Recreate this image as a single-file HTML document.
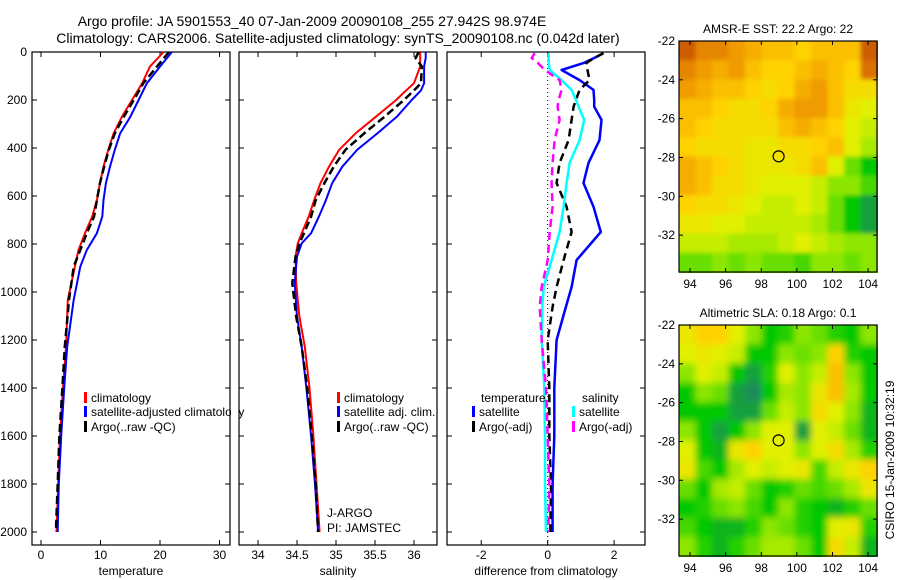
<!DOCTYPE html>
<html><head><meta charset="utf-8"><style>
body{margin:0;background:#fff;}
svg{display:block;font-family:"Liberation Sans",sans-serif;}
text{fill:#000;}
</style></head><body>
<svg id="c" width="900" height="580" viewBox="0 0 900 580">
<defs>
<filter id="blur1" x="0" y="0" width="1" height="1"><feGaussianBlur stdDeviation="2"/><feComponentTransfer><feFuncA type="table" tableValues="1 1"/></feComponentTransfer></filter>
<filter id="blur2" x="0" y="0" width="1" height="1"><feGaussianBlur stdDeviation="3.5"/><feComponentTransfer><feFuncA type="table" tableValues="1 1"/></feComponentTransfer></filter>
</defs>
<text x="312" y="26" font-size="14" text-anchor="middle">Argo profile: JA 5901553_40 07-Jan-2009 20090108_255 27.942S 98.974E</text>
<text x="338" y="43" font-size="14" text-anchor="middle">Climatology: CARS2006. Satellite-adjusted climatology: synTS_20090108.nc (0.042d later)</text>
<g id="g"></g>
</svg>
<script>
// ---- profile data ----
const depthT = [0,61,130,200,270,339,408,478,547,617,686,755,825,894,1033,1228,1400,1600,1800,2000];
const tempClim = [20.6,18.3,17.0,15.3,13.6,12.2,11.3,10.5,9.9,9.4,8.6,7.4,6.3,5.7,4.5,4.2,3.7,3.2,2.9,2.6];
const tempSat  = [22.0,20.0,17.8,16.4,15.0,13.3,12.4,11.6,10.9,10.5,10.3,9.4,7.7,6.6,5.5,4.4,3.9,3.4,3.0,2.8];
const tempArgo = [21.5,19.5,17.2,15.6,13.9,12.4,11.4,10.6,9.9,9.4,8.9,7.7,6.6,5.5,4.7,4.0,3.6,3.1,2.8,2.5];
const depthS = [0,25,60,130,160,200,270,339,408,478,547,617,686,755,797,853,964,1103,1228,1400,1600,1800,2000];
const salClim = [36.08,36.08,36.08,36.0,35.9,35.77,35.51,35.25,35.04,34.91,34.80,34.72,34.65,34.56,34.51,34.48,34.49,34.53,34.60,34.66,34.71,34.75,34.79];
const salSat  = [36.15,36.15,36.13,36.13,36.09,35.97,35.78,35.53,35.27,35.08,34.95,34.87,34.78,34.68,34.56,34.50,34.47,34.50,34.56,34.62,34.68,34.73,34.77];
const salArgo = [36.06,36.02,36.10,36.09,36.0,35.87,35.62,35.36,35.12,34.97,34.85,34.74,34.68,34.59,34.53,34.48,34.44,34.49,34.56,34.63,34.69,34.74,34.77];
const depthD = [5,25,45,75,117,158,200,228,283,367,462,546,645,750,867,979,1062,1200,1400,1600,1800,2000];
const dTempSat  = [1.68,1.4,1.1,0.42,0.96,1.38,1.4,1.4,1.62,1.56,1.23,1.08,1.38,1.6,0.87,0.72,0.55,0.27,0.2,0.2,0.15,0.15];
const dTempArgo = [1.68,1.4,1.17,1.2,1.26,0.96,0.85,0.78,0.72,0.63,0.36,0.27,0.57,0.72,0.48,0.27,0.15,0.0,0.05,0.05,0.1,0.08];
const dSalSat   = [0.03,0.03,0.03,0.06,0.42,0.72,0.85,0.93,1.1,0.96,0.66,0.57,0.48,0.36,0.12,-0.12,-0.16,-0.18,-0.1,-0.08,-0.08,-0.05];
const dSalArgo  = [-0.39,-0.48,-0.3,-0.09,0.36,0.42,0.33,0.3,0.36,0.21,0.15,0.12,0.15,0.06,0.0,-0.18,-0.24,-0.18,-0.05,0.0,0.05,0.02];
const depthTicks = [0,200,400,600,800,1000,1200,1400,1600,1800,2000];
const tempTicks = [0,10,20,30];
const salTicks = [34,34.5,35,35.5,36];
const diffTicks = [-2,0,2];
// ---- map data (12x12) ----
const mapLonTicks = [94,96,98,100,102,104];
const mapLatTicks = [-22,-24,-26,-28,-30,-32];
const sstGrid = [
[0.95,0.85,0.85,0.8,0.75,0.7,0.7,0.65,0.7,0.7,0.7,0.95],
[0.85,0.8,0.75,0.8,0.7,0.65,0.65,0.7,0.75,0.7,0.65,0.9],
[0.8,0.75,0.7,0.7,0.65,0.6,0.65,0.75,0.8,0.7,0.6,0.6],
[0.7,0.7,0.65,0.6,0.6,0.65,0.75,0.8,0.8,0.7,0.55,0.5],
[0.7,0.65,0.6,0.6,0.6,0.6,0.7,0.75,0.7,0.65,0.5,0.45],
[0.65,0.6,0.6,0.6,0.55,0.55,0.6,0.6,0.65,0.7,0.5,0.4],
[0.75,0.7,0.65,0.6,0.55,0.55,0.55,0.6,0.7,0.5,0.3,0.15],
[0.75,0.7,0.6,0.6,0.55,0.5,0.5,0.5,0.45,0.35,0.35,0.25],
[0.65,0.6,0.6,0.55,0.5,0.45,0.45,0.5,0.45,0.3,0.15,0.05],
[0.55,0.55,0.5,0.5,0.45,0.45,0.45,0.45,0.4,0.3,0.15,0.05],
[0.45,0.45,0.45,0.4,0.4,0.4,0.45,0.5,0.45,0.4,0.35,0.35],
[0.3,0.3,0.35,0.3,0.35,0.3,0.3,0.25,0.35,0.35,0.3,0.35]];
const slaGrid = [
[0.55,0.65,0.65,0.5,0.35,0.15,0.2,0.35,0.3,0.2,0.15,0.35],
[0.5,0.55,0.5,0.45,0.15,0.15,0.35,0.3,0.35,0.65,0.2,0.15],
[0.35,0.5,0.45,0.15,0.05,0.2,0.5,0.35,0.45,0.7,0.35,0.15],
[0.15,0.35,0.3,0.05,0.0,0.15,0.4,0.35,0.55,0.7,0.4,0.15],
[0.15,0.15,0.15,0.05,0.05,0.3,0.45,0.35,0.6,0.5,0.35,0.1],
[0.35,0.15,0.05,0.15,0.35,0.5,0.5,0.05,0.5,0.45,0.3,0.1],
[0.5,0.15,0.1,0.55,0.65,0.5,0.5,0.35,0.5,0.6,0.4,0.2],
[0.55,0.25,0.15,0.4,0.5,0.45,0.5,0.55,0.25,0.45,0.55,0.65],
[0.3,0.15,0.4,0.45,0.3,0.15,0.2,0.3,0.25,0.3,0.4,0.55],
[0.15,0.2,0.3,0.35,0.25,0.15,0.35,0.2,0.15,0.1,0.2,0.3],
[0.25,0.15,0.1,0.1,0.2,0.35,0.3,0.2,0.15,0.5,0.55,0.2],
[0.35,0.2,0.1,0.2,0.3,0.4,0.4,0.3,0.15,0.6,0.45,0.1]];

const NS='http://www.w3.org/2000/svg';
const G=document.getElementById('g');
function mk(tag,attrs,parent){const e=document.createElementNS(NS,tag);for(const k in attrs)e.setAttribute(k,attrs[k]);(parent||G).appendChild(e);return e;}
const yTop=52,yBot=545;
const yD=d=>yTop+d*0.24;

function panel(name,x0,x1,vmin,vmax,ticks,fmt,label){
  const sx=v=>x0+(v-vmin)/(vmax-vmin)*(x1-x0);
  const r=mk('rect',{x:x0,y:yTop,width:x1-x0,height:yBot-yTop,fill:'none',stroke:'#000','stroke-width':1.2});
  
  
  ticks.forEach(t=>{const x=sx(t);
    mk('line',{x1:x,x2:x,y1:yBot,y2:yBot-5,stroke:'#000'});mk('line',{x1:x,x2:x,y1:yTop,y2:yTop+5,stroke:'#000'});
    const tx=mk('text',{x:x,y:yBot+14,'font-size':12,'text-anchor':'middle'});tx.textContent=fmt(t);
    
    });
  depthTicks.forEach(d=>{const y=yD(d);
    mk('line',{x1:x0,x2:x0+5,y1:y,y2:y,stroke:'#000'});mk('line',{x1:x1,x2:x1-5,y1:y,y2:y,stroke:'#000'});});
  const lb=mk('text',{x:(x0+x1)/2,y:575,'font-size':12,'text-anchor':'middle'});lb.textContent=label;
  
  
  return sx;
}
function line(nm,sx,depths,vals,color,w,dash){
  const pts=depths.map((d,i)=>sx(vals[i]).toFixed(1)+','+yD(d).toFixed(1)).join(' ');
  const p=mk('polyline',{points:pts,fill:'none',stroke:color,'stroke-width':w,'stroke-dasharray':dash||'none','stroke-linejoin':'round'});
  
  
}
function legend(nm,x,y,color,txt){
  mk('rect',{x:x-1,y:y-10,width:3,height:11,fill:color});
  const t=mk('text',{x:x+6,y:y,'font-size':12});t.textContent=txt;
  
  
}
depthTicks.forEach(d=>{const t=mk('text',{x:27,y:yD(d)+4,'font-size':12,'text-anchor':'end'});t.textContent=d;
  
  });

const s1=panel('temperature-panel',32,230,-1.51,31.76,tempTicks,t=>t,'temperature');
line('temp-climatology-line',s1,depthT,tempClim,'#f00',2);
line('temp-satellite-line',s1,depthT,tempSat,'#00f',2);
line('temp-argo-line',s1,depthT,tempArgo,'#000',2.5,'8,4');
legend('legend-climatology',85,402,'#f00','climatology');
legend('legend-satellite-adjusted',85,416,'#00f','satellite-adjusted climatology');
legend('legend-argo',85,431,'#000','Argo(..raw -QC)');

const s2=panel('salinity-panel',239,437,33.756,36.295,salTicks,t=>t,'salinity');
line('sal-climatology-line',s2,depthS,salClim,'#f00',2);
line('sal-satellite-line',s2,depthS,salSat,'#00f',2);
line('sal-argo-line',s2,depthS,salArgo,'#000',2.5,'8,4');
legend('legend-sal-climatology',338,402,'#f00','climatology');
legend('legend-sal-satellite',338,416,'#00f','satellite adj. clim.');
legend('legend-sal-argo',338,431,'#000','Argo(..raw -QC)');
mk('rect',{x:231,y:400,width:7,height:30,fill:'#fff'});
let t1=mk('text',{x:327,y:517,'font-size':12});t1.textContent='J-ARGO';


let t2=mk('text',{x:327,y:532,'font-size':12});t2.textContent='PI: JAMSTEC';



const s3=panel('difference-panel',447,645,-3.03,2.93,diffTicks,t=>t,'difference from climatology');
mk('line',{x1:s3(0),x2:s3(0),y1:yTop,y2:yBot,stroke:'#000','stroke-width':1,'stroke-dasharray':'1,3'});
line('diff-temp-satellite-line',s3,depthD,dTempSat,'#00f',2.5);
line('diff-temp-argo-line',s3,depthD,dTempArgo,'#000',2.5,'8,5');
line('diff-sal-satellite-line',s3,depthD,dSalSat,'#0ff',2.5);
line('diff-sal-argo-line',s3,depthD,dSalArgo,'#f0f',2.5,'8,5');
let lt=mk('text',{x:481,y:402,'font-size':12});lt.textContent='temperature';


legend('legend-diff-temp-satellite',473,416,'#00f','satellite');
legend('legend-diff-temp-argo',473,431,'#000','Argo(-adj)');
let ls=mk('text',{x:582,y:402,'font-size':12});ls.textContent='salinity';


legend('legend-diff-sal-satellite',573,416,'#0ff','satellite');
legend('legend-diff-sal-argo',573,431,'#f0f','Argo(-adj)');

// ---- maps ----
const stops=[[0,[30,140,90]],[0.15,[0,200,0]],[0.35,[140,230,0]],[0.5,[225,240,0]],[0.65,[255,210,0]],[0.8,[240,155,0]],[1,[195,70,0]]];
function cmap(v){for(let i=1;i<stops.length;i++){if(v<=stops[i][0]){const a=stops[i-1],b=stops[i],f=(v-a[0])/(b[0]-a[0]);
  return 'rgb('+a[1].map((c,k)=>Math.round(c+(b[1][k]-c)*f)).join(',')+')';}}return 'rgb(195,70,0)';}
function map(name,y0,grid,title,filt){
  const x0=679,x1=877,y1=y0+231,lon0=93.38,lon1=104.5,latB=-33.9;
  const sx=l=>x0+(l-lon0)/(lon1-lon0)*(x1-x0);
  const sy=l=>y0+(-22-l)/(-22-latB)*(y1-y0);
  const rows=grid.length,cols=grid[0].length,cw=(x1-x0)/cols,ch=(y1-y0)/rows;
  const grp=mk('g',{filter:'url(#'+filt+')'});
  
  
  grid.forEach((row,r)=>row.forEach((v,c)=>{
    const cell=mk('rect',{x:x0+c*cw,y:y0+r*ch,width:cw+0.6,height:ch+0.6,fill:cmap(v)},grp);
    
    }));
  const fr=mk('rect',{x:x0,y:y0,width:x1-x0,height:y1-y0,fill:'none',stroke:'#000','stroke-width':1.2});
  
  
  mapLonTicks.forEach(l=>{const x=sx(l);mk('line',{x1:x,x2:x,y1:y1,y2:y1-4,stroke:'#000'});mk('line',{x1:x,x2:x,y1:y0,y2:y0+4,stroke:'#000'});
    const t=mk('text',{x:x,y:y1+16,'font-size':12,'text-anchor':'middle'});t.textContent=l;
    
    });
  mapLatTicks.forEach(l=>{const y=sy(l);mk('line',{x1:x0,x2:x0+4,y1:y,y2:y,stroke:'#000'});mk('line',{x1:x1,x2:x1-4,y1:y,y2:y,stroke:'#000'});
    const t=mk('text',{x:x0-4,y:y+4,'font-size':12,'text-anchor':'end'});t.textContent=l;
    
    });
  const c=mk('circle',{cx:sx(98.974),cy:sy(-27.942),r:5.5,fill:'none',stroke:'#000','stroke-width':1.2});
  
  
  const tt=mk('text',{x:(x0+x1)/2,y:y0-8,'font-size':12,'text-anchor':'middle'});tt.textContent=title;
  
  
}
map('sst-map',41,sstGrid,'AMSR-E SST: 22.2 Argo: 22','blur1');
map('sla-map',325,slaGrid,'Altimetric SLA: 0.18 Argo: 0.1','blur2');
const cs=mk('text',{x:0,y:0,'font-size':12,'text-anchor':'middle',transform:'translate(894,460) rotate(-90)'});cs.textContent='CSIRO 15-Jan-2009 10:32:19';


</script>
</body></html>
